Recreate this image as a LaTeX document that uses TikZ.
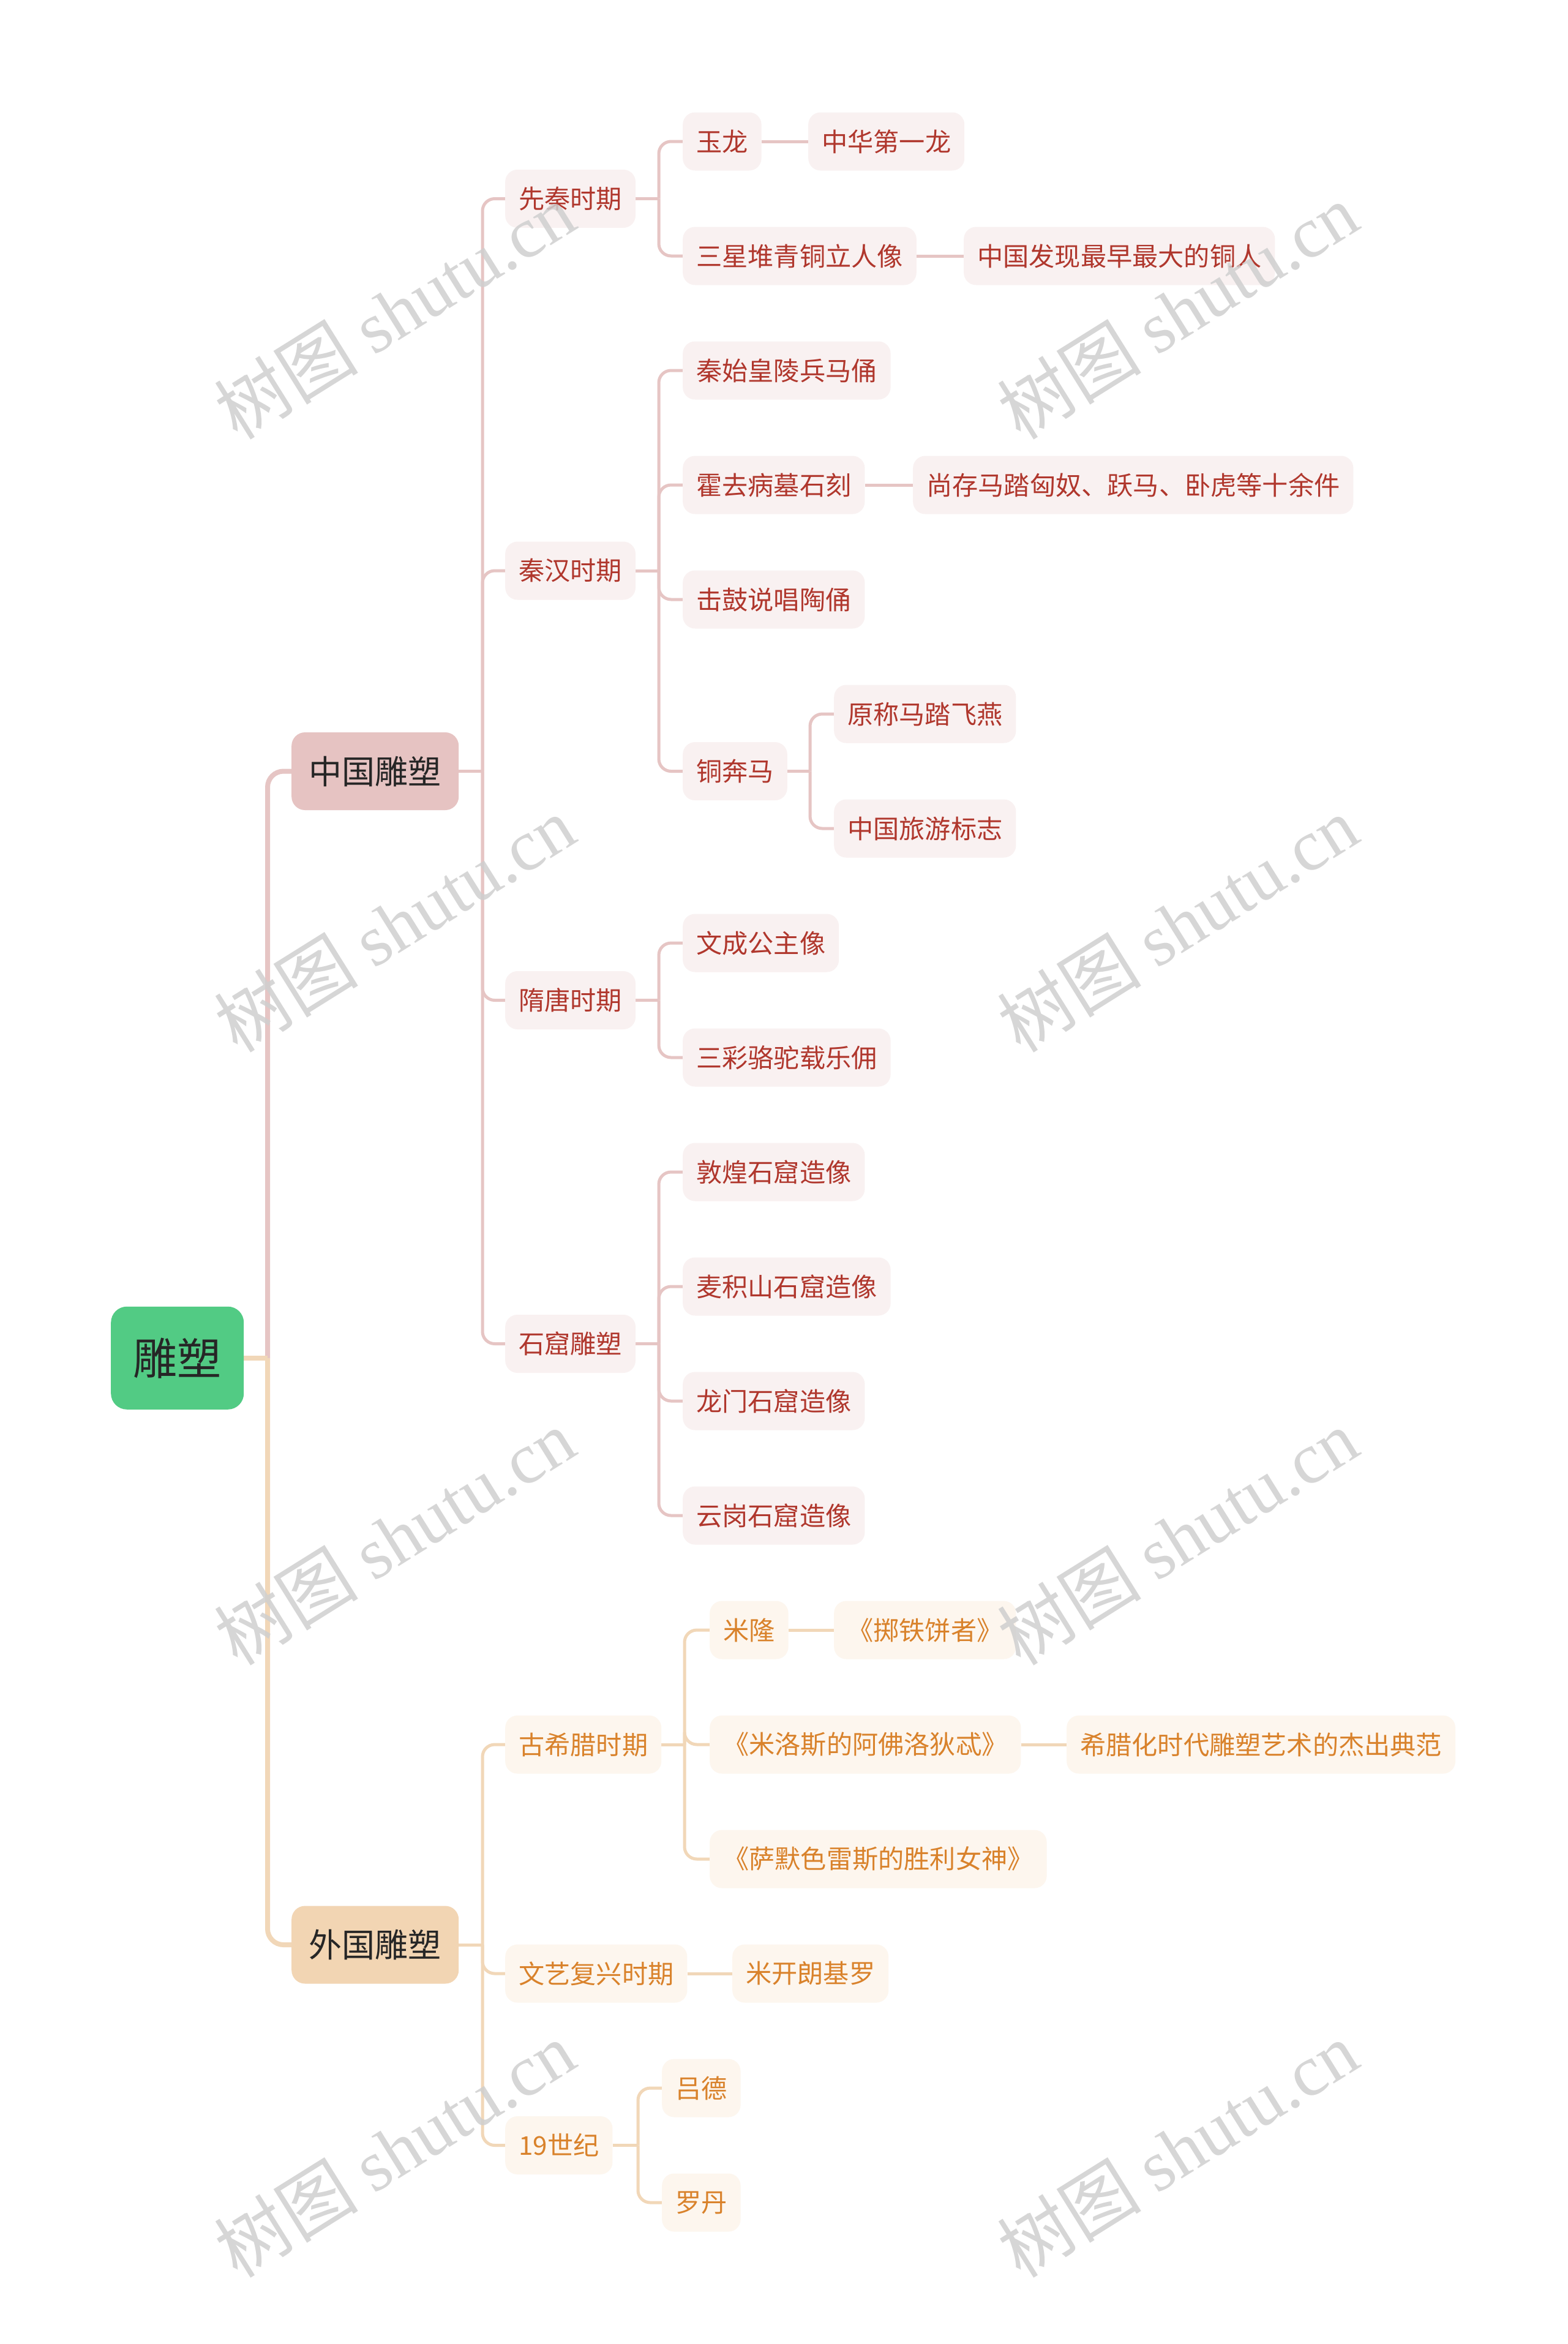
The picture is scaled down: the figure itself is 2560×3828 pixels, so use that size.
\documentclass[tikz,border=0pt]{standalone}
\usepackage{fontspec}
\setmainfont{Noto Sans CJK SC}
\newfontfamily\wmlatin{Liberation Serif}
\newfontfamily\cjk{Noto Sans CJK SC}
\usetikzlibrary{backgrounds}
\definecolor{rootgreen}{HTML}{52CB84}
\definecolor{cnone}{HTML}{E6C3C2}
\definecolor{cnfill}{HTML}{F9F1F1}
\definecolor{cntext}{HTML}{B0372D}
\definecolor{cnline}{HTML}{E6C5C4}
\definecolor{frone}{HTML}{F2D5B3}
\definecolor{frfill}{HTML}{FDF6EE}
\definecolor{frtext}{HTML}{D9822B}
\definecolor{frline}{HTML}{F1D7B8}
\definecolor{wmgray}{HTML}{CFCFCF}
\begin{document}
\begin{tikzpicture}[x=1pt,y=-1pt,
  box/.style={anchor=west, inner ysep=0pt, align=center},
  rootbox/.style={box, fill=rootgreen, text=black!85, font=\fontsize{72}{80}\selectfont, minimum height=168pt, inner xsep=36.5pt, rounded corners=26pt},
  cnonebox/.style={box, fill=cnone, text=black!85, font=\fontsize{54}{60}\selectfont, minimum height=127pt, inner xsep=28.5pt, rounded corners=22pt},
  fronebox/.style={box, fill=frone, text=black!85, font=\fontsize{54}{60}\selectfont, minimum height=127pt, inner xsep=28.5pt, rounded corners=22pt},
  cnbox/.style={box, fill=cnfill, text=cntext, font=\fontsize{42.2}{48}\selectfont, minimum height=95pt, inner xsep=22pt, rounded corners=20pt},
  frbox/.style={box, fill=frfill, text=frtext, font=\fontsize{42.2}{48}\selectfont, minimum height=95pt, inner xsep=22pt, rounded corners=20pt},
  cnroot/.style={draw=cnline, line width=8pt, rounded corners=26pt},
  frroot/.style={draw=frline, line width=8pt, rounded corners=26pt},
  cnlink/.style={draw=cnline, line width=5pt, rounded corners=20pt},
  frlink/.style={draw=frline, line width=5pt, rounded corners=20pt},
  wm/.style={text=wmgray, opacity=0.85, rotate=32, font=\fontsize{118}{128}\selectfont, inner sep=0pt}
]
\useasboundingbox (0,0) rectangle (2560,3828);

% ---------- nodes ----------
\node[rootbox] (root) at (181,2217.75) {雕塑};
\node[cnonebox] (cn) at (476,1259.5) {中国雕塑};
\node[fronebox] (fr) at (476,3176) {外国雕塑};

\node[cnbox] (sq) at (825,324.5) {先秦时期};
\node[cnbox] (qh) at (825,932) {秦汉时期};
\node[cnbox] (st) at (825,1633.5) {隋唐时期};
\node[cnbox] (sk) at (825,2194.5) {石窟雕塑};

\node[cnbox] (yl) at (1115,231) {玉龙};
\node[cnbox] (zh) at (1320,231) {中华第一龙};
\node[cnbox] (sx) at (1115,418) {三星堆青铜立人像};
\node[cnbox] (zg) at (1574,418) {中国发现最早最大的铜人};
\node[cnbox] (bm) at (1115,605) {秦始皇陵兵马俑};
\node[cnbox] (hq) at (1115,792) {霍去病墓石刻};
\node[cnbox] (sc) at (1491,792) {尚存马踏匈奴、跃马、卧虎等十余件};
\node[cnbox] (jg) at (1115,979) {击鼓说唱陶俑};
\node[cnbox] (tb) at (1115,1259.5) {铜奔马};
\node[cnbox] (yc) at (1362,1166) {原称马踏飞燕};
\node[cnbox] (ly) at (1362,1353) {中国旅游标志};
\node[cnbox] (wc) at (1115,1540) {文成公主像};
\node[cnbox] (sl) at (1115,1727) {三彩骆驼载乐佣};
\node[cnbox] (dh) at (1115,1914) {敦煌石窟造像};
\node[cnbox] (mj) at (1115,2101) {麦积山石窟造像};
\node[cnbox] (lm) at (1115,2288) {龙门石窟造像};
\node[cnbox] (yg) at (1115,2475) {云岗石窟造像};

\node[frbox] (gx) at (825,2849) {古希腊时期};
\node[frbox] (wy) at (825,3223) {文艺复兴时期};
\node[frbox] (sj) at (825,3503.5) {19世纪};

\node[frbox] (ml) at (1159,2662) {米隆};
\node[frbox] (zt) at (1362,2662) {《掷铁饼者》};
\node[frbox] (mls) at (1159,2849) {《米洛斯的阿佛洛狄忒》};
\node[frbox] (xl) at (1742,2849) {希腊化时代雕塑艺术的杰出典范};
\node[frbox] (sm) at (1159,3036) {《萨默色雷斯的胜利女神》};
\node[frbox] (mk) at (1196,3223) {米开朗基罗};
\node[frbox] (ld) at (1081,3410) {吕德};
\node[frbox] (ldn) at (1081,3597) {罗丹};

% ---------- junctions ----------
\coordinate (jr) at (437,2217.75);
\coordinate (jcn) at (788,1259.5);
\coordinate (jfr) at (788,3176);
\coordinate (jsq) at (1076,324.5);
\coordinate (jqh) at (1076,932);
\coordinate (jst) at (1076,1633.5);
\coordinate (jsk) at (1076,2194.5);
\coordinate (jtb) at (1323,1259.5);
\coordinate (jgx) at (1118,2849);
\coordinate (jsj) at (1042,3503.5);

% ---------- connectors ----------
\begin{pgfonlayer}{background}
\fill[white] (0,0) rectangle (2560,3828);
\draw[cnroot] (jr) |- (cn.west);
\draw[frroot] (jr) |- (fr.west);
\draw[frroot] (root.east) -- (jr);

\draw[cnlink] (cn.east) -- (jcn);
\foreach \c in {sq,qh,st,sk} \draw[cnlink] (jcn) |- (\c.west);
\draw[cnlink] (sq.east) -- (jsq);
\foreach \c in {yl,sx} \draw[cnlink] (jsq) |- (\c.west);
\draw[cnlink] (qh.east) -- (jqh);
\foreach \c in {bm,hq,jg,tb} \draw[cnlink] (jqh) |- (\c.west);
\draw[cnlink] (st.east) -- (jst);
\foreach \c in {wc,sl} \draw[cnlink] (jst) |- (\c.west);
\draw[cnlink] (sk.east) -- (jsk);
\foreach \c in {dh,mj,lm,yg} \draw[cnlink] (jsk) |- (\c.west);
\draw[cnlink] (tb.east) -- (jtb);
\foreach \c in {yc,ly} \draw[cnlink] (jtb) |- (\c.west);
\draw[cnlink] (yl.east) -- (zh.west);
\draw[cnlink] (sx.east) -- (zg.west);
\draw[cnlink] (hq.east) -- (sc.west);

\draw[frlink] (fr.east) -- (jfr);
\foreach \c in {gx,wy,sj} \draw[frlink] (jfr) |- (\c.west);
\draw[frlink] (gx.east) -- (jgx);
\foreach \c in {ml,mls,sm} \draw[frlink] (jgx) |- (\c.west);
\draw[frlink] (sj.east) -- (jsj);
\foreach \c in {ld,ldn} \draw[frlink] (jsj) |- (\c.west);
\draw[frlink] (ml.east) -- (zt.west);
\draw[frlink] (mls.east) -- (xl.west);
\draw[frlink] (wy.east) -- (mk.west);
\end{pgfonlayer}

% ---------- watermarks ----------
\foreach \wx/\wy [count=\i] in {644/508, 1923/508, 644/1509, 1923/1509, 644/2510, 1923/2510, 644/3510, 1923/3510}
  \node[wm] (wm\i) at (\wx,\wy) {{\cjk 树图} {\wmlatin shutu.cn}};
\end{tikzpicture}
\end{document}
